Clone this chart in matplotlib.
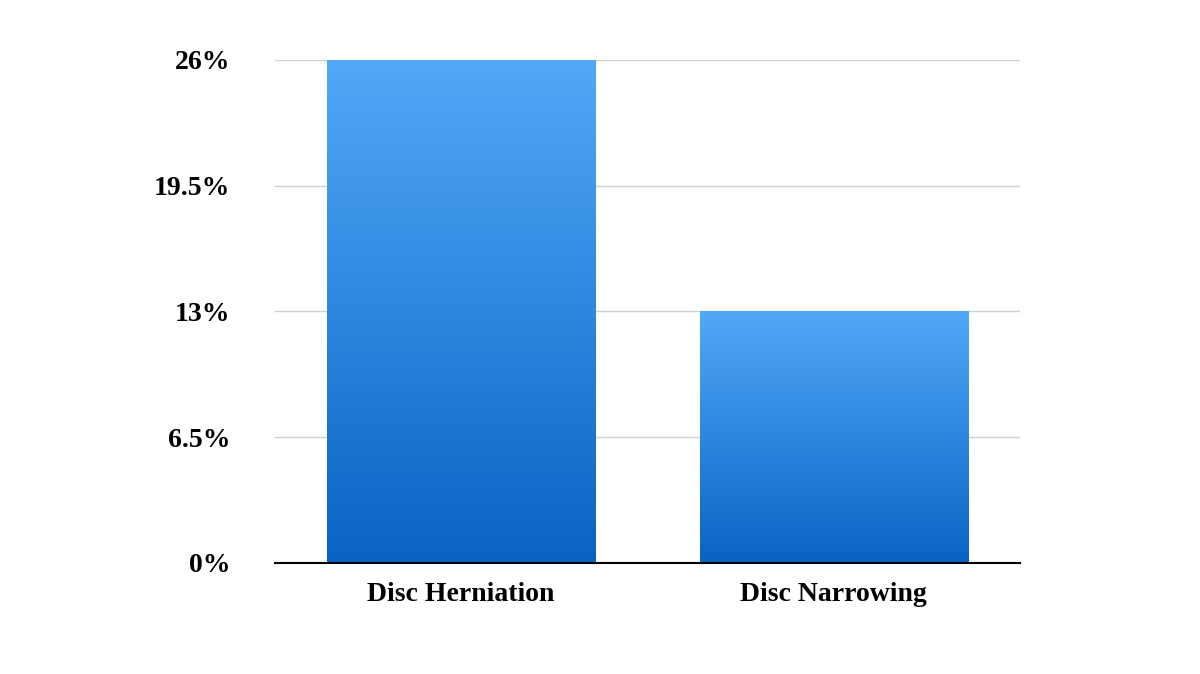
import matplotlib
matplotlib.use("Agg")
import matplotlib.pyplot as plt
import numpy as np
from matplotlib.colors import LinearSegmentedColormap

categories = ["Disc Herniation", "Disc Narrowing"]
values = [26, 13]
ticks = [0, 6.5, 13, 19.5, 26]
tick_labels = ["0%", "6.5%", "13%", "19.5%", "26%"]

plt.rcParams['font.family'] = ['Liberation Serif', 'DejaVu Serif']
fig = plt.figure(figsize=(12, 6.74), dpi=100)
ax = fig.add_axes([0.229, 0.1647, 0.621, 0.7463])
ax.set_xlim(-0.5, 1.5)
ax.set_ylim(0, 26)
cmap = LinearSegmentedColormap.from_list("g", ["#0a63c3", "#52a9f9"])
grad = np.linspace(0, 1, 256).reshape(-1, 1)
w = 0.72
for i, v in enumerate(values):
    bar = ax.bar(i, v, width=w, color="none", zorder=2)[0]
    im = ax.imshow(grad, extent=[i - w/2, i + w/2, 0, v], origin="lower",
                   cmap=cmap, aspect="auto", zorder=2)
    im.set_clip_path(bar)
ax.set_xlim(-0.5, 1.5)
ax.set_ylim(0, 26)
ax.set_yticks(ticks)
ax.set_yticklabels(tick_labels, fontsize=20, fontweight="bold")
ax.set_xticks(range(len(categories)))
ax.set_xticklabels(categories, fontsize=20, fontweight="bold")
ax.tick_params(length=0, pad=14)
ax.tick_params(axis="y", pad=32)
ax.grid(axis="y", color="#d0d0d0", linewidth=1, zorder=0)
for s in ["top", "right", "left"]:
    ax.spines[s].set_visible(False)
ax.spines["bottom"].set_color("black")
ax.spines["bottom"].set_linewidth(1.5)
ax.spines["bottom"].set_zorder(3)
fig.savefig("out.png", dpi=100)
